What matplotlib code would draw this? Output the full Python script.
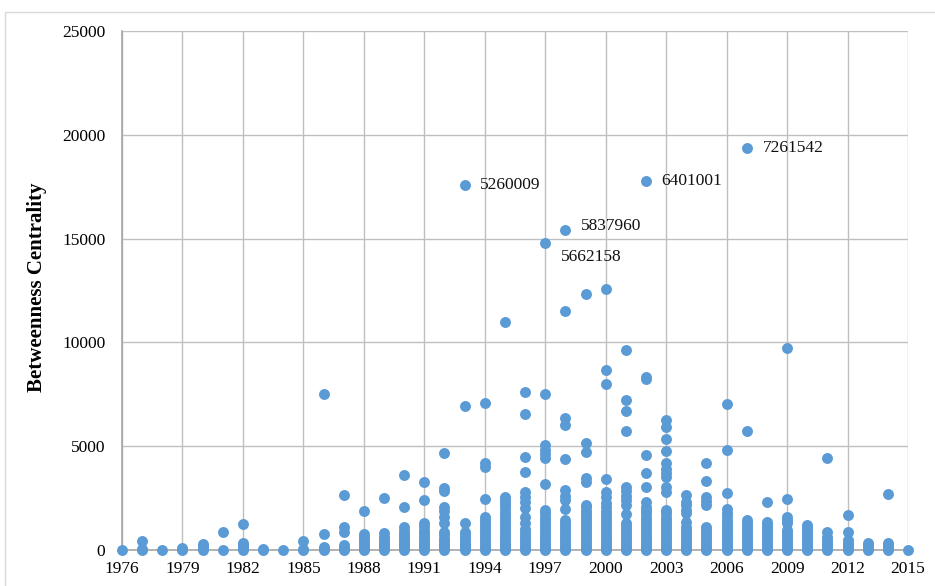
import matplotlib
matplotlib.use("Agg")
import matplotlib.pyplot as plt
from matplotlib.patches import Rectangle

plt.rcParams["font.family"] = ["Liberation Serif", "DejaVu Serif"]

# year of each column of points
years = list(range(1976, 2016))

# betweenness centrality values, one list per year
centrality = [
    [0],                                                     # 1976
    [0, 60, 420],                                            # 1977
    [0],                                                     # 1978
    [0, 50, 90],                                             # 1979
    [0, 90, 180, 270],                                       # 1980
    [0, 870],                                                # 1981
    [0, 80, 160, 250, 330, 1250],                            # 1982
    [0, 40],                                                 # 1983
    [0],                                                     # 1984
    [0, 60, 450],                                            # 1985
    [0, 70, 160, 770, 7520],                                 # 1986
    [0, 60, 150, 250, 880, 1120, 2650],                      # 1987
    [0, 70, 160, 260, 370, 480, 640, 770, 1900],             # 1988
    [0, 80, 170, 280, 400, 520, 650, 820, 2500],             # 1989
    [0, 80, 170, 270, 380, 500, 620, 760, 900, 1120, 2070, 3610],           # 1990
    [0, 90, 190, 300, 420, 550, 690, 830, 980, 1150, 1300, 2400, 3290],     # 1991
    [0, 90, 190, 300, 420, 550, 700, 850, 1300, 1600, 1900, 2090, 2850,
     3000, 4690],                                                           # 1992
    [0, 80, 170, 270, 380, 500, 630, 760, 880, 1320, 6940, 17600],          # 1993
    [0, 100, 200, 320, 440, 570, 700, 850, 1000, 1150, 1300, 1450, 1600,
     2460, 4010, 4180, 7080],                                               # 1994
    [0, 100, 200, 310, 430, 560, 690, 830, 970, 1110, 1250, 1400, 1550,
     1700, 1850, 2000, 2150, 2300, 2450, 2570, 11000],                      # 1995
    [0, 100, 210, 330, 450, 580, 720, 860, 1000, 1300, 1600, 2000, 2300,
     2570, 2810, 3780, 4480, 6560, 7630],                                   # 1996
    [0, 100, 210, 330, 450, 580, 720, 860, 1000, 1150, 1300, 1450, 1600,
     1770, 1930, 3170, 4450, 4620, 4820, 5060, 7500, 14800],                # 1997
    [0, 100, 210, 330, 450, 580, 720, 860, 1000, 1150, 1300, 1450, 1980,
     2410, 2600, 2890, 4370, 6030, 6350, 11500, 15420],                     # 1998
    [0, 100, 210, 330, 450, 580, 720, 860, 1000, 1150, 1300, 1450, 1600,
     1750, 1900, 2050, 2170, 3290, 3460, 4740, 5170, 12340],                # 1999
    [0, 100, 210, 330, 450, 580, 720, 860, 1000, 1150, 1300, 1450, 1600,
     1750, 1900, 2050, 2250, 2570, 2810, 3400, 7990, 8680, 12580],          # 2000
    [0, 100, 210, 330, 450, 580, 720, 860, 1000, 1150, 1300, 1720, 2170,
     2400, 2600, 2850, 3050, 5750, 6700, 7230, 9640],                       # 2001
    [0, 100, 210, 330, 450, 580, 720, 860, 1000, 1150, 1300, 1450, 1600,
     1770, 1930, 2090, 2330, 3020, 3700, 4560, 8230, 8350, 17790],          # 2002
    [0, 100, 210, 330, 450, 580, 720, 860, 1000, 1150, 1300, 1450, 1600,
     1770, 1930, 2810, 3050, 3530, 3700, 3900, 4180, 4790, 5330, 5910,
     6270],                                                                 # 2003
    [0, 100, 210, 330, 450, 580, 720, 860, 1000, 1120, 1360, 1770, 1950,
     2150, 2330, 2650],                                                     # 2004
    [0, 100, 210, 330, 450, 580, 720, 860, 1000, 1120, 2170, 2350, 2570,
     3340, 4210],                                                           # 2005
    [0, 100, 210, 330, 450, 580, 720, 860, 1000, 1150, 1300, 1450, 1620,
     1780, 1960, 2760, 4820, 7020],                                         # 2006
    [0, 100, 210, 330, 450, 580, 720, 860, 1000, 1150, 1300, 1450, 5750,
     19380],                                                                # 2007
    [0, 100, 210, 330, 450, 580, 720, 860, 1000, 1120, 1240, 1360, 2300],   # 2008
    [0, 100, 210, 330, 450, 580, 720, 860, 960, 1300, 1450, 1600, 2440,
     9740],                                                                 # 2009
    [0, 100, 210, 330, 450, 580, 720, 860, 1000, 1100, 1200],               # 2010
    [0, 110, 230, 350, 480, 640, 880, 4420],                                # 2011
    [0, 120, 240, 360, 480, 850, 1690],                                     # 2012
    [0, 120, 240, 350],                                                     # 2013
    [0, 120, 240, 350, 2700],                                               # 2014
    [0],                                                                    # 2015
]

# labelled points
label_years = [1993, 1998, 1997, 2002, 2007]
label_values = [17600, 15420, 14800, 17790, 19380]
label_texts = ["5260009", "5837960", "5662158", "6401001", "7261542"]
label_offsets = [(11, 0), (11.5, 2.5), (11, -10), (11, 0), (11.5, 0)]

x_ticks = list(range(1976, 2016, 3))
y_ticks = [0, 5000, 10000, 15000, 20000, 25000]

fig = plt.figure(figsize=(9.35, 5.86), dpi=100)
fig.patches.append(Rectangle((5 / 935, -0.1), 1.2, 1 - 12 / 586 + 0.1,
                             transform=fig.transFigure, fill=False,
                             edgecolor="#D9D9D9", linewidth=1.0))
ax = fig.add_axes([122 / 935, 1 - 550 / 586, (908 - 122) / 935, (550 - 31) / 586])

xs = []
ys = []
for year, values in zip(years, centrality):
    for v in values:
        xs.append(year)
        ys.append(v)
ax.scatter(xs, ys, s=62, color="#5B9BD5", linewidths=0, zorder=3, clip_on=False)

for yr, val, txt, off in zip(label_years, label_values, label_texts, label_offsets):
    ax.annotate(txt, (yr, val), xytext=off, textcoords="offset points",
                ha="left", va="center", fontsize=12.5, color="#111111")

ax.set_xlim(1976, 2015)
ax.set_ylim(0, 25000)
ax.set_xticks(x_ticks)
ax.set_yticks(y_ticks)
ax.grid(True, color="#BFBFBF", linewidth=1.0, zorder=0)
ax.set_axisbelow(True)
for side in ["top", "right"]:
    ax.spines[side].set_visible(False)
for side in ["left", "bottom"]:
    ax.spines[side].set_color("#A6A6A6")
    ax.spines[side].set_linewidth(1.2)
ax.tick_params(axis="both", length=0, labelsize=12.5)
ax.tick_params(axis="y", pad=12)
ax.tick_params(axis="x", pad=8)

fig.text(37 / 935, 1 - 287 / 586, "Betweenness Centrality", rotation=90,
         ha="center", va="center", fontsize=15, fontweight="bold")

fig.savefig("out.png", dpi=100)
